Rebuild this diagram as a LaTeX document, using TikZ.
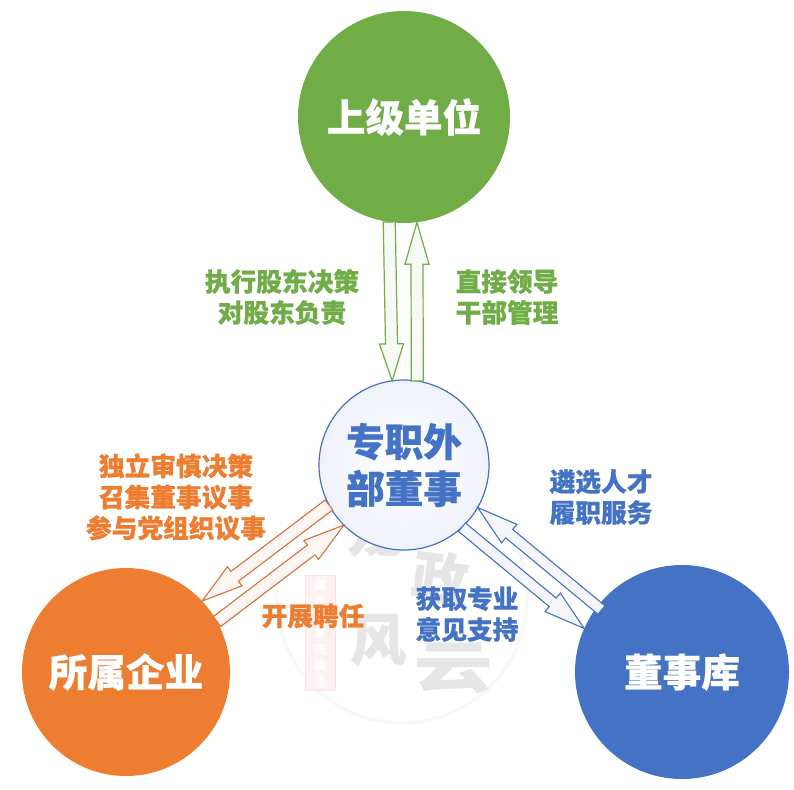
\documentclass[tikz,border=0pt]{standalone}
\usepackage{fontspec}
\setmainfont{Noto Sans CJK SC}[BoldFeatures={FakeBold=0.6}]
\usetikzlibrary{calc}
\definecolor{cgreen}{HTML}{70AD47}
\definecolor{corange}{HTML}{ED7D31}
\definecolor{cblue}{HTML}{4472C4}
\definecolor{lgreen}{HTML}{F7F9F5}
\definecolor{lorange}{HTML}{FDF6F2}
\definecolor{lblue}{HTML}{F5F6FB}
\definecolor{dorange}{HTML}{D8703A}
\definecolor{midedge}{HTML}{F0F2FA}
\definecolor{wmgray}{HTML}{E6E6E6}
\definecolor{sealpink}{HTML}{FEF1F0}
\definecolor{sealedge}{HTML}{FBE3E1}
\tikzset{
  disc/.style={circle,inner sep=0pt,outer sep=0pt,text=white,font=\fontsize{38.6}{47}\selectfont\bfseries,align=center},
  lab/.style={inner sep=0pt,align=center,font=\fontsize{25.7}{31}\selectfont\bfseries},
  greenarrow/.style={draw=cgreen,fill=lgreen,line width=1.2pt,line join=miter},
  orangearrow/.style={draw=dorange,fill=lorange,line width=1.1pt,line join=miter},
  bluearrow/.style={draw=cblue,fill=lblue,line width=1.1pt,line join=miter},
  wm/.style={inner sep=0pt,text=wmgray,font=\fontsize{56}{56}\selectfont\bfseries}
}
% #1 style, #2 start, #3 tip, #4 shaft half width, #5 head half width, #6 head length
\newcommand{\blockarrow}[6]{%
  \draw[#1] ($(#2)!#4pt!90:(#3)$)
    -- ($(#3)!#6pt!(#2)!#4pt!-90:(#2)$)
    -- ($(#3)!#6pt!(#2)!#5pt!-90:(#2)$)
    -- (#3)
    -- ($(#3)!#6pt!(#2)!#5pt!90:(#2)$)
    -- ($(#3)!#6pt!(#2)!#4pt!90:(#2)$)
    -- ($(#2)!#4pt!-90:(#3)$) -- cycle;}
\begin{document}
\begin{tikzpicture}[x=1pt,y=-1pt]
\useasboundingbox (0,0) rectangle (794,789);
\fill[white] (0,0) rectangle (794,789);
% watermark
\draw[black!3,line width=3pt] (402,598) circle (125);
\node[wm] (wm1) at (375,530) {龙};
\node[wm,rotate=-8] (wm2) at (440,578) {政};
\node[wm] (wm3) at (378,640) {风};
\node[wm,xscale=1.4] (wm4) at (453,668) {云};
\node[draw=sealedge,fill=sealpink,text=white,line width=1pt,inner sep=3pt,minimum width=30pt,minimum height=115pt,align=center,font=\fontsize{11}{16}\selectfont\bfseries] (seal) at (320,633) {国\\企\\改\\革\\先\\锋\\号};
% circles
\node[disc,fill=cgreen,minimum size=212pt] (top) at (404,117) {上级单位};
\node[disc,fill=corange,minimum size=208pt] (left) at (126,672) {所属企业};
\node[disc,fill=cblue,minimum size=214pt] (right) at (682,672) {董事库};
\node[disc,draw=cblue,line width=1.2pt,inner color=white,outer color=midedge,minimum size=170pt,text=cblue] (mid) at (404,465) {专职外\\部董事};
\coordinate (rs) at (601.5,610);
% arrows
\blockarrow{greenarrow}{top.262.9}{mid.98.8}{6}{12}{37}
\blockarrow{greenarrow}{mid.81.2}{top.277}{6}{12}{42}
\blockarrow{orangearrow}{mid.208.4}{left.43.8}{6.2}{12}{41}
\blockarrow{orangearrow}{left.29}{mid.225.5}{6.2}{12}{41}
\blockarrow{bluearrow}{rs}{mid.330.4}{5.5}{12}{41}
\blockarrow{bluearrow}{mid.313.3}{right.156.1}{5.5}{12}{41}
% labels
\node[lab,text=cgreen] (l1) at (282,297) {执行股东决策\\对股东负责};
\node[lab,text=cgreen] (l2) at (507,297) {直接领导\\干部管理};
\node[lab,text=corange] (l3) at (176,497) {独立审慎决策\\召集董事议事\\参与党组织议事};
\node[lab,text=corange] (l4) at (313,616) {开展聘任};
\node[lab,text=cblue] (l5) at (601,497) {遴选人才\\履职服务};
\node[lab,text=cblue] (l6) at (467,614) {获取专业\\意见支持};
\end{tikzpicture}
\end{document}
